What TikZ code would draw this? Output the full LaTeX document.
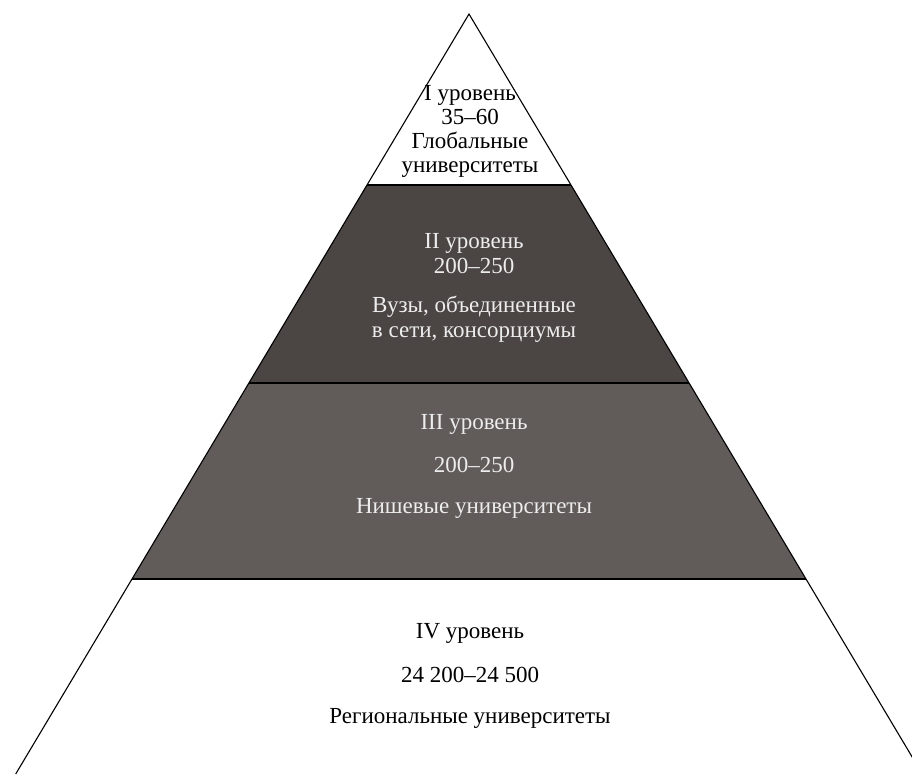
\documentclass[tikz,border=0pt]{standalone}
\usepackage{fontspec}
\setmainfont{Liberation Serif}
\usepackage{tikz}
\usetikzlibrary{positioning}

\definecolor{darktier}{HTML}{4B4544}
\definecolor{greytier}{HTML}{615B5A}
\definecolor{paletext}{HTML}{EDEDED}

\tikzset{
    tierlabel/.style={align=center, inner sep=0pt, font=\fontsize{23}{25}\selectfont},
    tierline/.style={line width=1.8pt, black}
}

\begin{document}
\begin{tikzpicture}[x=1pt, y=-1pt]
    \useasboundingbox (0,0) rectangle (912,774);
    \clip (0,0) rectangle (912,774);
    % pyramid corners
    \coordinate (apex) at (469,14);
    \coordinate (l1) at (367,185); \coordinate (r1) at (571,185);
    \coordinate (l2) at (249,383); \coordinate (r2) at (689,383);
    \coordinate (l3) at (132,579); \coordinate (r3) at (806,579);
    \coordinate (l4) at (15.7,774); \coordinate (r4) at (922.3,774);
    % dark tiers
    \fill[darktier] (l1) -- (r1) -- (r2) -- (l2) -- cycle;
    \fill[greytier] (l2) -- (r2) -- (r3) -- (l3) -- cycle;
    \draw[line width=1.1pt] (l4) -- (apex) -- (r4);
    \draw[tierline] (l1) -- (r1);
    \draw[tierline] (l2) -- (r2);
    \draw[tierline] (l3) -- (r3);
    % labels
    \node[tierlabel, font=\fontsize{23}{24}\selectfont] (tierI) at (470,131)
        {I уровень\\35–60\\Глобальные\\университеты};
    \node[tierlabel, text=paletext, font=\fontsize{23}{25}\selectfont] (tierII) at (474,288)
        {II уровень\\200–250\\[14pt]Вузы, объединенные\\в сети, консорциумы};
    \node[tierlabel, text=paletext] (tierIII) at (474,466)
        {III уровень\\[18pt]200–250\\[16pt]Нишевые университеты};
    \node[tierlabel] (tierIV) at (470,676)
        {IV уровень\\[19pt]24 200–24 500\\[16pt]Региональные университеты};
\end{tikzpicture}
\end{document}
